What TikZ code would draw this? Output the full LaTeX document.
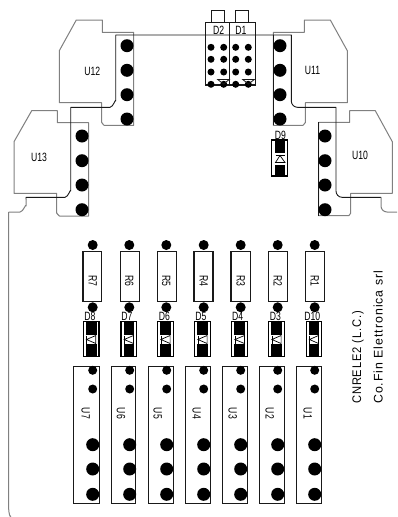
\documentclass[tikz,border=0pt]{standalone}
\usepackage{fontspec}
\setmainfont{Liberation Sans}
\definecolor{gl}{gray}{0.5}
\definecolor{dk}{gray}{0.1}
\newcommand{\nar}[1]{\scalebox{0.72}[1]{#1}}
\tikzset{
  outl/.style={draw=gl,line width=1pt,line join=round},
  trk/.style={draw=dk,line width=0.9pt,line join=round},
  pad/.style={circle,fill=black,draw=none,inner sep=0pt},
  padL/.style={pad,minimum size=13pt},
  padM/.style={pad,minimum size=10pt},
  padS/.style={pad,minimum size=9pt},
  padT/.style={pad,minimum size=7pt},
  lbl/.style={inner sep=0pt,font=\fontsize{12}{13}\selectfont},
  titl/.style={inner sep=0pt,rotate=90,anchor=base west,font=\fontsize{12.5}{13}\selectfont\addfontfeatures{LetterSpace=8}},
  compbox/.style={draw=dk,fill=white,line width=0.9pt},
  resbox/.style={draw=dk,fill=white,line width=1.2pt},
}
\newcommand{\vdiode}[2]{%
  \begin{scope}
    \draw[black,line width=1.1pt,fill=white] (#1,321.5) rectangle (#2,356.2);
    \fill[black] (#1+2.5,321) rectangle (#2-2.5,334.7);
    \fill[black] (#1+2.5,344.3) rectangle (#2-2.5,356.7);
    \draw[black,line width=0.7pt] (#1+3.2,335.5) -- (#1+3.2,343.5);
    \draw[black,line width=0.7pt] (#1+3.2,339.5) -- (#2-3.2,335.5) -- (#2-3.2,343.5) -- cycle;
  \end{scope}
}
\begin{document}
\begin{tikzpicture}[x=1pt,y=-1pt]
\useasboundingbox (0,0) rectangle (397,517);
\fill[white] (0,0) rectangle (397,517);
% sockets
\draw[outl] (76.3,20)--(102.3,20)--(102.3,32.3)--(133.7,32.3)--(133.7,125.3)--(104,125.3)
  to[out=180,in=90] (101.7,122.5)--(101.7,102.7)--(59.3,102.7)--(59.3,50.7)--cycle;
\draw[outl] (31.7,110.7)--(57.3,110.7)--(57.3,122.7)--(88.7,122.7)--(88.7,216)--(59.3,216)
  to[out=180,in=90] (56.7,213.2)--(56.7,193.3)--(14,193.3)--(14,141.7)--cycle;
\draw[outl] (330.3,20)--(304.3,20)--(304.3,32.3)--(273.3,32.3)--(273.3,125.3)--(303,125.3)
  to[out=0,in=90] (305.3,122.7)--(305.3,102.7)--(347.3,102.7)--(347.3,50.7)--cycle;
\draw[outl] (375.3,110.7)--(349.7,110.7)--(349.7,122.3)--(318.7,122.3)--(318.7,215.7)--(348.7,215.7)
  to[out=0,in=90] (350.7,213.3)--(350.7,193.3)--(392.3,193.3)--(392.3,141.7)--cycle;
\draw[trk] (273.3,35)--(273.3,125.3);
\draw[trk] (318.7,122.3)--(318.7,215.7);
% board edge
\coordinate (eL) at (11,516);
\draw[outl] (eL) to[out=-110,in=-90] (8.7,509) -- (8.7,212);
\draw[outl] (8.7,212) -- (20,212) to[out=0,in=90] (26,206) -- (26,199);
\draw[trk] (26,199) -- (26,197.3) -- (65,197.3)
  to[out=0,in=90] (70.7,191) -- (70.7,107.3) -- (110,107.3) to[out=0,in=90] (115.7,101)
  -- (115.7,35) -- (291.3,35) -- (291.3,101) to[out=-90,in=180] (297.5,107.3) -- (336,107.3)
  -- (336,191) to[out=-90,in=180] (342,197.3) -- (381,197.3);
\draw[outl] (381,197.3) -- (381,206)
  to[out=-90,in=180] (387,212) -- (397,212);
% socket pads
\foreach \n/\x/\y in {a/127/45.7,b/127/70.3,c/127/94.7,d/127/119,
  e/82/136,f/82/160.7,g/82/185,h/82/209.7,
  i/280/45.7,j/280/70.3,k/280/94.7,l/280/119,
  m/325/136,n/325/160.7,o/325/185,p/325/209.7}
  \node[padL] (s\n) at (\x,\y) {};
\node[lbl] (u12) at (92.3,71) {\nar{U12}};
\node[lbl] (u13) at (39,157.5) {\nar{U13}};
\node[lbl] (u11) at (312.5,70) {\nar{U11}};
\node[lbl] (u10) at (360,155) {\nar{U10}};
% D1 D2
\draw[draw=dk,line width=1pt] (211,22.7)--(211,10)--(224.3,10)--(224.3,22.7);
\draw[draw=dk,line width=1pt] (235.7,22.7)--(235.7,10)--(248.7,10)--(248.7,22.7);
\draw[draw=dk,line width=1.1pt] (205.3,22.7) rectangle (229.7,85);
\draw[draw=dk,line width=1.1pt] (229.7,22.7) rectangle (255.3,85);
\node[lbl] (d2) at (218.7,30) {\nar{D2}};
\node[lbl] (d1) at (241,30) {\nar{D1}};
\foreach \x in {211,223.7,235.7,248.3}
  \foreach \y in {47.3,59.3,72,84.3}
    \node[padT] at (\x,\y) {};
\draw[dk,line width=0.8pt] (217.7,79.5)--(229.3,79.5)--(223.5,84)--cycle;
\draw[dk,line width=0.8pt] (242.7,79.5)--(254.3,79.5)--(248.5,84)--cycle;
% D9
\draw[black,line width=1.1pt,fill=white] (271.7,140) rectangle (287.7,176);
\fill[black] (275,141) rectangle (285.3,152.7);
\fill[black] (275,165.3) rectangle (285.3,175.5);
\draw[black,line width=0.7pt] (275.5,155.5)--(285,155.5);
\draw[black,line width=0.7pt] (280,155.5)--(275.5,162.5)--(285,162.5)--cycle;
\node[lbl] (d9) at (280.3,135.3) {\nar{D9}};
% resistors
\foreach \n/\xl/\xr/\xp in {7/83/101.7/92.7,6/120.3/139.3/129.3,5/157.3/176.7/166.3,4/194/213/203.7,3/231/250.3/240.7,2/268.3/287.3/277.7,1/305.7/324.7/314.7}{
  \node[padM] (rt\n) at (\xp,245) {};
  \node[padM] (rb\n) at (\xp,307.3) {};
  \draw[resbox] (\xl,251.5) rectangle (\xr,301.5);
  \node[lbl,rotate=-90] (r\n) at (\xp,281) {\nar{R\n}};
}
% diodes
\vdiode{83.3}{99}
\vdiode{121}{136.7}
\vdiode{157.7}{173.3}
\vdiode{194.7}{210.3}
\vdiode{231.7}{247.7}
\vdiode{268.7}{284.3}
\vdiode{306.3}{321.7}
\foreach \t/\x in {D8/90,D7/127,D6/164.3,D5/201,D4/237.7,D3/275.3,D10/312.3}
  \node[lbl] (l\t) at (\x,316.5) {\nar{\t}};
% modules
\foreach \n/\xl/\xr/\xp/\xt in {7/73.3/99/92.7/85.7,6/111/135.7/129.7/121,5/148.3/173/166.7/157.7,4/185/210.3/203.7/196.7,3/222.3/247/240.7/232.7,2/259/284.3/277.7/269.7,1/296.3/321/314.7/307.7}{
  \draw[compbox] (\xl,366.3) rectangle (\xr,503.3);
  \node[padS] (ma\n) at (\xp,370.3) {};
  \node[padS] (mb\n) at (\xp,389) {};
  \node[padL] (mc\n) at (\xp,444.7) {};
  \node[padL] (md\n) at (\xp,469) {};
  \node[padL] (me\n) at (\xp,494.3) {};
  \node[lbl,rotate=-90] (u\n) at (\xt,413.3) {\nar{U\n}};
}
% title
\node[titl] (t1) at (361,404) {\resizebox{93pt}{\height}{CNRELE2 (L.C.)}};
\node[titl] (t2) at (382.7,404) {\resizebox{133pt}{\height}{Co.Fin Elettronica srl}};
\end{tikzpicture}
\end{document}
